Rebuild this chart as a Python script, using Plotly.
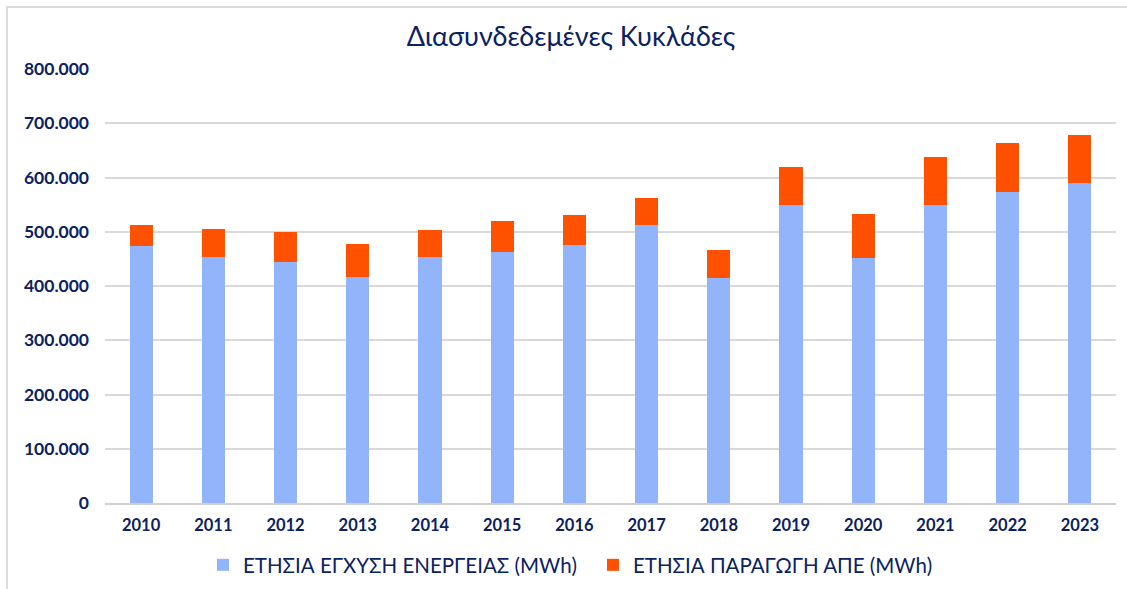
import plotly.graph_objects as go

years = ["2010", "2011", "2012", "2013", "2014", "2015", "2016",
         "2017", "2018", "2019", "2020", "2021", "2022", "2023"]
energy_supply = [473000, 453000, 445000, 417000, 453000, 462000, 475000,
                 512000, 415000, 549000, 452000, 550000, 573000, 590000]
res_production = [40000, 53000, 55000, 60000, 51000, 57000, 55000,
                  51000, 52000, 70000, 80000, 88000, 90000, 89000]
y_ticks = [0, 100000, 200000, 300000, 400000, 500000, 600000, 700000, 800000]
y_ticklabels = ["0", "100.000", "200.000", "300.000", "400.000",
                "500.000", "600.000", "700.000", "800.000"]

navy = "#0b2160"
font_family = "Lato, 'Noto Sans', sans-serif"

fig = go.Figure()
fig.add_trace(go.Bar(
    x=years, y=energy_supply, name="ΕΤΗΣΙΑ ΕΓΧΥΣΗ ΕΝΕΡΓΕΙΑΣ (MWh)",
    marker=dict(color="#91b4fb", line=dict(width=0)),
))
fig.add_trace(go.Bar(
    x=years, y=res_production, name="ΕΤΗΣΙΑ ΠΑΡΑΓΩΓΗ ΑΠΕ (MWh)",
    marker=dict(color="#ff5100", line=dict(width=0)),
))

fig.update_layout(
    barmode="stack",
    bargap=0.68,
    width=1127, height=589,
    paper_bgcolor="white", plot_bgcolor="white",
    margin=dict(l=105, r=11, t=69, b=86, autoexpand=False),
    font=dict(family=font_family, color=navy, size=16),
    title=dict(text="Διασυνδεδεμένες Κυκλάδες", x=571 / 1127, xref="container",
               xanchor="center", y=1 - 37 / 589, yref="container", yanchor="middle",
               font=dict(size=27, color=navy, family=font_family)),
    xaxis=dict(showgrid=False, showline=True, linecolor="#d0d0d0", linewidth=1.5,
               ticks="", automargin=False,
               tickfont=dict(size=16.5, color=navy, family=font_family, weight="bold"),
               ticklabelstandoff=6),
    yaxis=dict(range=[0, 800000], tickvals=y_ticks, ticktext=y_ticklabels,
               showgrid=True, gridcolor="#d9d9d9", gridwidth=1.5,
               zeroline=False, showline=False, ticks="", automargin=False,
               tickfont=dict(size=17.5, color=navy, family=font_family, weight="bold"),
               ticklabelstandoff=15),
    legend=dict(orientation="h", x=(218 - 105 - 15) / 1011, xanchor="left",
                y=-62 / 434, yanchor="middle",
                font=dict(size=20.5, color=navy, family=font_family),
                itemwidth=30, traceorder="normal",
                entrywidth=345, entrywidthmode="pixels"),
    showlegend=True,
    shapes=[
        dict(type="line", xref="paper", yref="paper",
             x0=-99 / 1011, x1=1.02, y0=1 + 62 / 434, y1=1 + 62 / 434,
             line=dict(color="#dcdcdc", width=2)),
        dict(type="line", xref="paper", yref="paper",
             x0=-98 / 1011, x1=-98 / 1011, y0=1 + 62 / 434, y1=-0.3,
             line=dict(color="#dcdcdc", width=2)),
    ],
)

fig.write_html("out.html", config={"displayModeBar": False},
               post_script="document.body.style.margin='0';document.body.style.overflow='hidden';")
